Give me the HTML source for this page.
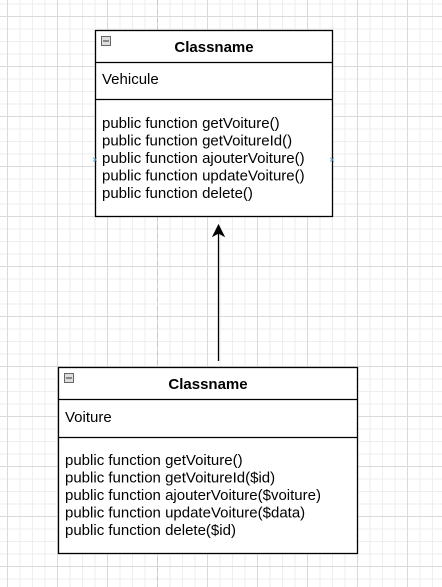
<!DOCTYPE html>
<html><head><style>
html,body{margin:0;padding:0;background:#fff;}
svg{display:block;}
text{font-family:"Liberation Sans",Arial,sans-serif;font-size:15px;fill:#000;}
</style></head><body>
<svg width="442" height="587" xmlns="http://www.w3.org/2000/svg">
<defs>
<pattern id="minor" x="7" y="16" width="12.5" height="12.5" patternUnits="userSpaceOnUse">
<path d="M0 0.5H12.5M0.5 0V12.5" stroke="#eeeeee" stroke-width="1" fill="none"/>
</pattern>
<pattern id="major" x="7" y="16" width="50" height="50" patternUnits="userSpaceOnUse">
<path d="M0 0.5H50M0.5 0V50" stroke="#dadada" stroke-width="1" fill="none"/>
</pattern>
</defs>
<rect width="442" height="587" fill="url(#minor)"/>
<rect width="442" height="587" fill="url(#major)"/>
<line x1="157.5" y1="0" x2="157.5" y2="587" stroke="#c8c8c8" stroke-dasharray="5,4"/>

<!-- Box 1 -->
<rect x="95.5" y="30.5" width="237" height="186" fill="#fff" stroke="#000" stroke-width="1.3"/>
<line x1="95.5" y1="62.5" x2="332.5" y2="62.5" stroke="#000" stroke-width="1.3"/>
<line x1="95.5" y1="99.5" x2="332.5" y2="99.5" stroke="#000" stroke-width="1.3"/>
<rect x="101.5" y="36.5" width="9" height="9" fill="#ddd" stroke="#666"/>
<line x1="103" y1="41" x2="109" y2="41" stroke="#333"/>
<text x="214" y="52" text-anchor="middle" font-weight="bold">Classname</text>
<text x="102" y="84">Vehicule</text>
<text x="102" y="128">public function getVoiture()</text>
<text x="102" y="145.5">public function getVoitureId()</text>
<text x="102" y="163">public function ajouterVoiture()</text>
<text x="102" y="180.5">public function updateVoiture()</text>
<text x="102" y="198">public function delete()</text>
<text x="92" y="163" font-size="10" style="fill:#4a9fdf;font-size:10px">×</text>
<text x="329" y="163" font-size="10" style="fill:#4a9fdf;font-size:10px">×</text>

<!-- Arrow -->
<line x1="218.5" y1="361" x2="218.5" y2="232" stroke="#000" stroke-width="1.3"/>
<path d="M218.5 225 L224 236 L218.5 233 L213 236 Z" fill="#000" stroke="#000"/>

<!-- Box 2 -->
<rect x="58.5" y="367.5" width="299" height="186" fill="#fff" stroke="#000" stroke-width="1.3"/>
<line x1="58.5" y1="399.5" x2="357.5" y2="399.5" stroke="#000" stroke-width="1.3"/>
<line x1="58.5" y1="437.5" x2="357.5" y2="437.5" stroke="#000" stroke-width="1.3"/>
<rect x="64.5" y="373.5" width="9" height="9" fill="#ddd" stroke="#666"/>
<line x1="66" y1="378" x2="72" y2="378" stroke="#333"/>
<text x="208" y="389" text-anchor="middle" font-weight="bold">Classname</text>
<text x="65" y="422">Voiture</text>
<text x="65" y="465">public function getVoiture()</text>
<text x="65" y="482.5">public function getVoitureId($id)</text>
<text x="65" y="500">public function ajouterVoiture($voiture)</text>
<text x="65" y="517.5">public function updateVoiture($data)</text>
<text x="65" y="535">public function delete($id)</text>
</svg>
</body></html>
